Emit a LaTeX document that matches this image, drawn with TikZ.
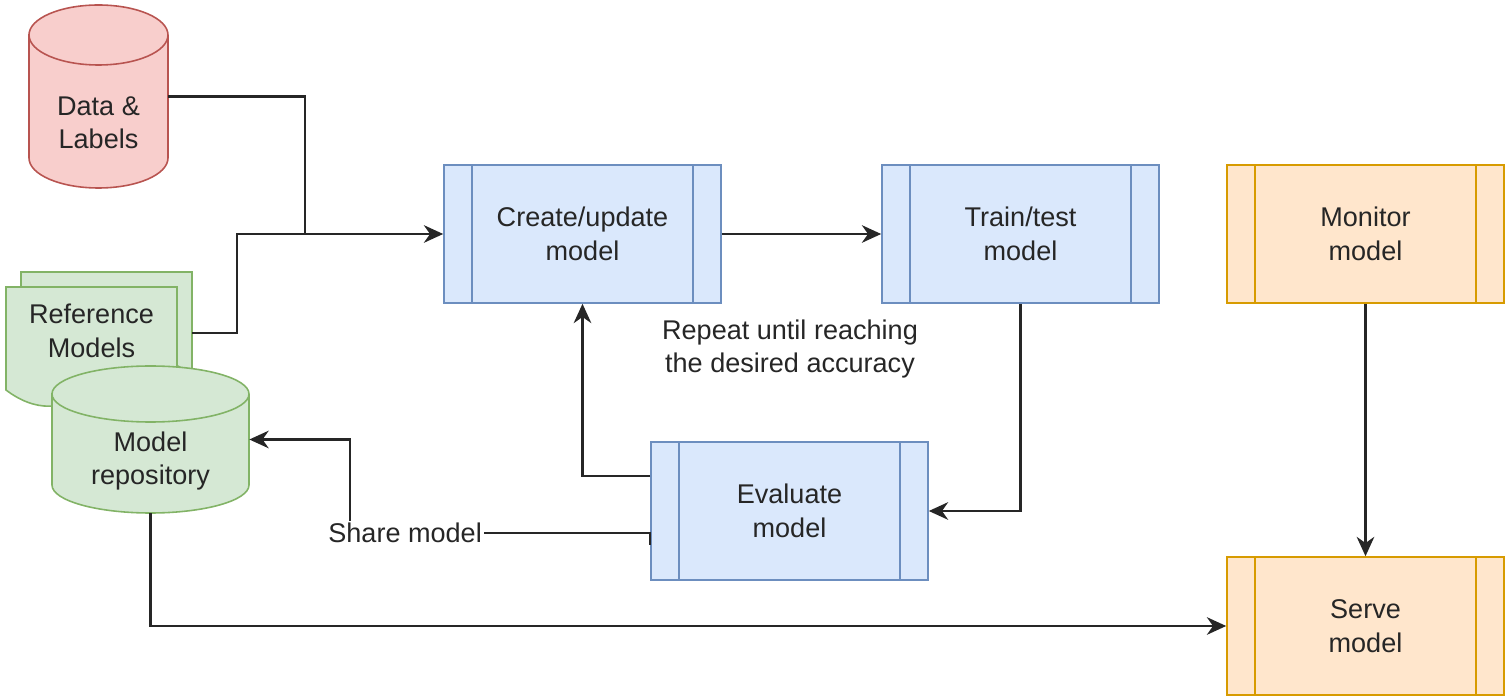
\documentclass[tikz,border=0pt]{standalone}
\usepackage{fontspec}
\setmainfont{Liberation Sans}
\usetikzlibrary{arrows.meta,calc}

\definecolor{blueFill}{HTML}{DAE8FC}
\definecolor{blueLine}{HTML}{6C8EBF}
\definecolor{orangeFill}{HTML}{FFE6CC}
\definecolor{orangeLine}{HTML}{D79B00}
\definecolor{greenFill}{HTML}{D5E8D4}
\definecolor{greenLine}{HTML}{82B366}
\definecolor{redFill}{HTML}{F8CECC}
\definecolor{redLine}{HTML}{B85450}
\definecolor{ink}{HTML}{262626}

\tikzset{
  txt/.style={font=\fontsize{15.4}{19}\selectfont, text=ink, align=center},
  conn/.style={draw=ink, line width=1.3pt},
  procbox/.style 2 args={txt, draw=#2, fill=#1, line width=0.9pt,
    minimum width=55.4mm, minimum height=27.6mm, inner sep=0pt,
    path picture={\draw[#2, line width=0.9pt]
      ([xshift=5.6mm]path picture bounding box.north west) -- ([xshift=5.6mm]path picture bounding box.south west)
      ([xshift=-5.6mm]path picture bounding box.north east) -- ([xshift=-5.6mm]path picture bounding box.south east);}},
  bluebox/.style={procbox={blueFill}{blueLine}},
  orangebox/.style={procbox={orangeFill}{orangeLine}},
  dbshape/.style 2 args={fill=#1, draw=#2, line width=0.9pt},
  spot/.style={inner sep=0pt},
}

\begin{document}
\begin{tikzpicture}[x=0.2mm, y=-0.2mm, >={Stealth[length=11pt,width=10pt,inset=3.5pt]}]
  \useasboundingbox (0,0) rectangle (1511,700);
  % data store
  \filldraw[dbshape={redFill}{redLine}] (29,35) -- (29,158) arc[start angle=180, end angle=0, x radius=69.5, y radius=30]
    -- (168,35) arc[start angle=0, end angle=-180, x radius=69.5, y radius=30] -- cycle;
  \draw[redLine, line width=0.9pt] (29,35) arc[start angle=180, end angle=0, x radius=69.5, y radius=30];
  \node[spot, minimum width=27.8mm, minimum height=36.6mm] (data) at (98.5,96.5) {};
  \node[txt] (datatext) at (98.5,122.5) {Data \&\\Labels};
  % reference models, two sheets
  \filldraw[dbshape={greenFill}{greenLine}] (21,272) -- (192,272) -- (192,375)
    .. controls (163.5,353.4) and (135,353.4) .. (106.5,375) .. controls (78,396.6) and (49.5,396.6) .. (21,375) -- cycle;
  \filldraw[dbshape={greenFill}{greenLine}] (6,287) -- (177,287) -- (177,390)
    .. controls (148.5,368.4) and (120,368.4) .. (91.5,390) .. controls (63,411.6) and (34.5,411.6) .. (6,390) -- cycle;
  \node[spot, minimum width=34.2mm, minimum height=24.4mm] (refs) at (106.5,333) {};
  \node[txt] (refstext) at (91.5,331) {Reference\\Models};
  % model repository
  \filldraw[dbshape={greenFill}{greenLine}] (52,394) -- (52,485) arc[start angle=180, end angle=0, x radius=98.5, y radius=28]
    -- (249,394) arc[start angle=0, end angle=-180, x radius=98.5, y radius=28] -- cycle;
  \draw[greenLine, line width=0.9pt] (52,394) arc[start angle=180, end angle=0, x radius=98.5, y radius=28];
  \node[spot, minimum width=39.4mm, minimum height=29.4mm] (repo) at (150.5,439.5) {};
  \node[txt] (repotext) at (150.5,461) {Model\\repository};
  % steps
  \node[bluebox] (create) at (582.5,234) {Create/update\\model};
  \node[bluebox] (train) at (1020.5,234) {Train/test\\model};
  \node[bluebox] (evaluate) at (789.5,511) {Evaluate\\model};
  \node[orangebox] (monitor) at (1365.5,234) {Monitor\\model};
  \node[orangebox] (serve) at (1365.5,626) {Serve\\model};
  \node[txt] (repeat) at (790,349) {Repeat until reaching\\the desired accuracy};
  % connectors
  \coordinate (join) at (305,234);
  \draw[conn] (data.east) -| (join);
  \draw[conn, ->] (refs.east) -- ++(45,0) |- (create.west);
  \draw[conn, ->] (create.east) -- (train.west);
  \draw[conn, ->] (train.south) |- (evaluate.east);
  \draw[conn, ->] ($(evaluate.west)+(0,-35)$) -| (create.south);
  \draw[conn, ->] ($(evaluate.west)+(0,34)$) -- ++(0,-12) -- ++(-300,0)
    node[txt, pos=0.817, fill=white, inner sep=1pt] (share) {Share model} |- (repo.east);
  \draw[conn, ->] (monitor.south) -- (serve.north);
  \draw[conn, ->] (repo.south) |- (serve.west);
\end{tikzpicture}
\end{document}
